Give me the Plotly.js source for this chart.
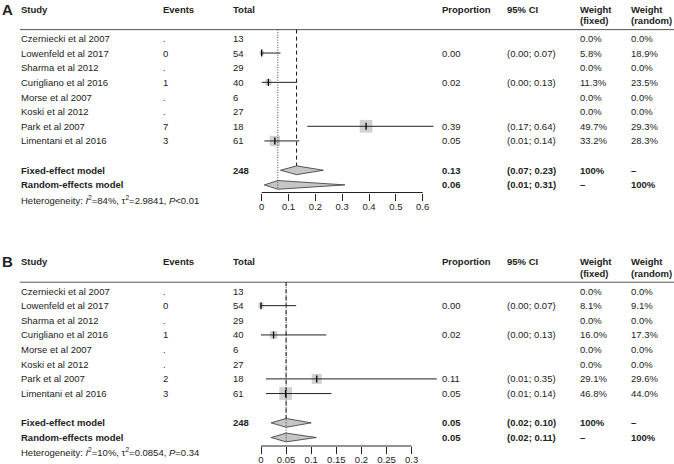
<!DOCTYPE html>
<html><head><meta charset="utf-8">
<script src="https://cdn.plot.ly/plotly-3.0.1.min.js"></script>
<style>html,body{margin:0;padding:0;background:#fff;}</style>
</head><body>
<div id="chart" style="width:674px;height:464px;"></div>
<script>
// ---------- DATA ----------
const studies = ['Czerniecki et al 2007','Lowenfeld et al 2017','Sharma et al 2012','Curigliano et al 2016','Morse et al 2007','Koski et al 2012','Park et al 2007','Limentani et al 2016'];
const totals = [13,54,29,40,6,27,18,61];
const pooledNames = ['Fixed-effect model','Random-effects model'];
const pooledTotal = 248;

// Panel A
const eventsA = ['.','0','.','1','.','.','7','3'];
const estA = [null,0.0,null,0.025,null,null,0.389,0.049];
const lowA = [null,0.0,null,0.0,null,null,0.17,0.01];
const upA  = [null,0.07,null,0.13,null,null,0.64,0.14];
const propLabA = ['','0.00','','0.02','','','0.39','0.05'];
const ciLabA = ['','(0.00; 0.07)','','(0.00; 0.13)','','','(0.17; 0.64)','(0.01; 0.14)'];
const wFixedA = [0.0,5.8,0.0,11.3,0.0,0.0,49.7,33.2];
const wRandomA = [0.0,18.9,0.0,23.5,0.0,0.0,29.3,28.3];
const pooledEstA = [0.13,0.06];
const pooledLowA = [0.07,0.01];
const pooledUpA = [0.23,0.31];
const hetA = ['84%','2.9841','<0.01'];
const tickValsA = [0,0.1,0.2,0.3,0.4,0.5,0.6];
const tickTextA = ['0','0.1','0.2','0.3','0.4','0.5','0.6'];

// Panel B
const eventsB = ['.','0','.','1','.','.','2','3'];
const estB = [null,0.0,null,0.025,null,null,0.111,0.049];
const lowB = [null,0.0,null,0.0,null,null,0.01,0.01];
const upB  = [null,0.07,null,0.13,null,null,0.35,0.14];
const propLabB = ['','0.00','','0.02','','','0.11','0.05'];
const ciLabB = ['','(0.00; 0.07)','','(0.00; 0.13)','','','(0.01; 0.35)','(0.01; 0.14)'];
const wFixedB = [0.0,8.1,0.0,16.0,0.0,0.0,29.1,46.8];
const wRandomB = [0.0,9.1,0.0,17.3,0.0,0.0,29.6,44.0];
const pooledEstB = [0.05,0.05];
const pooledLowB = [0.02,0.02];
const pooledUpB = [0.10,0.11];
const hetB = ['10%','0.0854','=0.34'];
const tickValsB = [0,0.05,0.1,0.15,0.2,0.25,0.3];
const tickTextB = ['0','0.05','0.1','0.15','0.2','0.25','0.3'];

// ---------- LAYOUT HELPERS ----------
const W = 674, H = 464;
const FONT = 'Arial, "Liberation Sans", sans-serif';
const FS = 9.5;
const TXT = '#222';
const ROWH = 14.65;
const COL = {label:1.5, study:20.7, events:163, total:233, prop:441.7, ci:506.7, wf:579.5, wr:631};

const traces = [];
const annotations = [];
const shapes = [];
const layout = {
  width: W, height: H, margin:{l:0,r:0,t:0,b:0},
  paper_bgcolor:'#fff', plot_bgcolor:'#fff', showlegend:false,
  font:{family:FONT, size:FS, color:TXT}
};

function txt(xpx, row, text, yref, bold, size) {
  annotations.push({
    xref:'paper', x: xpx / W, yref: yref, y: row,
    text: bold ? '<b>' + text + '</b>' : text,
    showarrow:false, xanchor:'left', yanchor:'middle',
    borderpad:0, borderwidth:0,
    font:{family:FONT, size: size || FS, color: TXT}
  });
}

function panel(p) {
  const yref = p.yid;
  const xref = p.xid;
  const axSuffix = p.xid === 'x' ? '' : '2';
  const topPx = p.domPx[0], botPx = p.domPx[1];
  const rTop = 1 + (topPx - p.row1Px) / ROWH;
  const rBot = 1 + (botPx - p.row1Px) / ROWH;
  layout['yaxis' + axSuffix] = {
    domain:[1 - botPx / H, 1 - topPx / H], range:[rBot, rTop],
    visible:false, fixedrange:true, anchor: xref
  };
  const x0 = -p.zeroPx / p.pxPerUnit;
  const x1 = (W - p.zeroPx) / p.pxPerUnit;
  const axisPos = 1 - p.axisPx / H;
  layout['xaxis' + axSuffix] = {
    domain:[0,1], range:[x0, x1], anchor:'free', position: axisPos,
    tickmode:'array', tickvals:p.tickVals, ticktext:p.tickText,
    ticks:'outside', ticklen:7, tickwidth:1, tickcolor:'#222',
    ticklabelstandoff:-2,
    showgrid:false, zeroline:false, showline:false, fixedrange:true,
    tickfont:{family:FONT, size:FS, color:TXT}
  };
  shapes.push({type:'line', xref:xref, yref:'paper',
    x0:p.tickVals[0], x1:p.tickVals[p.tickVals.length-1], y0:axisPos, y1:axisPos,
    line:{color:'#222', width:1}});

  const hr = -1, hr2 = -0.22;
  txt(COL.label, hr, p.label, yref, true, 15);
  txt(COL.study, hr, 'Study', yref, true);
  txt(COL.events, hr, 'Events', yref, true);
  txt(COL.total, hr, 'Total', yref, true);
  txt(COL.prop, hr, 'Proportion', yref, true);
  txt(COL.ci, hr, '95% CI', yref, true);
  txt(COL.wf, hr, 'Weight', yref, true);
  txt(COL.wf, hr2, '(fixed)', yref, true);
  txt(COL.wr, hr, 'Weight', yref, true);
  txt(COL.wr, hr2, '(random)', yref, true);
  shapes.push({type:'line', xref:'paper', yref:yref, x0:20/W, x1:1, y0:0.4, y1:0.4,
    line:{color:'#555', width:1}});

  const rows = studies.map((s,i)=>i+1);
  studies.forEach((s,i)=>{
    const r = rows[i];
    txt(COL.study, r, s, yref, false);
    txt(COL.events, r, p.events[i], yref, false);
    txt(COL.total, r, String(totals[i]), yref, false);
    if (p.propLab[i]) txt(COL.prop, r, p.propLab[i], yref, false);
    if (p.ciLab[i]) txt(COL.ci, r, p.ciLab[i], yref, false);
    txt(COL.wf, r, p.wFixed[i].toFixed(1) + '%', yref, false);
    txt(COL.wr, r, p.wRandom[i].toFixed(1) + '%', yref, false);
  });
  const pr = [10, 11];
  pooledNames.forEach((n,k)=>{
    txt(COL.study, pr[k], n, yref, true);
    txt(COL.prop, pr[k], p.pEst[k].toFixed(2), yref, true);
    txt(COL.ci, pr[k], '(' + p.pLow[k].toFixed(2) + '; ' + p.pUp[k].toFixed(2) + ')', yref, true);
  });
  txt(COL.total, pr[0], String(pooledTotal), yref, true);
  txt(COL.wf, pr[0], '100%', yref, true);
  txt(COL.wr, pr[0], '\u2013', yref, true);
  txt(COL.wf, pr[1], '\u2013', yref, true);
  txt(COL.wr, pr[1], '100%', yref, true);
  txt(COL.study, 12, 'Heterogeneity: <i>I</i><sup>2</sup>=' + p.het[0] + ', \u03c4<sup>2</sup>=' + p.het[1] + ', <i>P</i>' + p.het[2].replace('<','&lt;'), yref, false);

  shapes.push({type:'line', xref:xref, yref:yref, x0:p.pEst[0], x1:p.pEst[0], y0:0.4, y1:9.7,
    line:{color:'#111', width:1, dash:'4px,3px'}});
  shapes.push({type:'line', xref:xref, yref:yref, x0:p.pEst[1], x1:p.pEst[1], y0:0.4, y1:11.3,
    line:{color:'#444', width:1, dash:'1px,1.5px'}});

  const wmax = Math.max.apply(null, p.wFixed);
  const sx=[], sy=[], ss=[];
  const lx=[], ly=[];
  p.est.forEach((e,i)=>{
    if (e === null) return;
    sx.push(e); sy.push(rows[i]); ss.push(12.7 * Math.sqrt(p.wFixed[i] / wmax));
    lx.push(p.low[i], p.up[i], null); ly.push(rows[i], rows[i], null);
  });
  traces.push({type:'scatter', mode:'markers', x:sx, y:sy, xaxis:xref, yaxis:yref,
    marker:{symbol:'square', size:ss, color:'#bdbdbd', line:{width:0}}, hoverinfo:'skip', cliponaxis:false});
  traces.push({type:'scatter', mode:'lines', x:lx, y:ly, xaxis:xref, yaxis:yref,
    line:{color:'#222', width:1}, hoverinfo:'skip'});
  traces.push({type:'scatter', mode:'markers', x:sx, y:sy, xaxis:xref, yaxis:yref,
    marker:{symbol:'line-ns-open', size:5, color:'#000', line:{color:'#000', width:1.3}}, hoverinfo:'skip', cliponaxis:false});

  const h = 0.3;
  const dx=[], dy=[];
  pr.forEach((r,k)=>{
    dx.push(p.pLow[k], p.pEst[k], p.pUp[k], p.pEst[k], p.pLow[k], null);
    dy.push(r, r - h, r, r + h, r, null);
  });
  traces.push({type:'scatter', mode:'lines', x:dx, y:dy, xaxis:xref, yaxis:yref,
    fill:'toself', fillcolor:'#c6c6c6', line:{color:'#333', width:0.8}, hoverinfo:'skip'});
}

panel({label:'A', xid:'x', yid:'y', domPx:[0,232], row1Px:38.4, zeroPx:261.7, pxPerUnit:268.33, axisPx:192.5,
  tickVals:tickValsA, tickText:tickTextA, events:eventsA, est:estA, low:lowA, up:upA,
  propLab:propLabA, ciLab:ciLabA, wFixed:wFixedA, wRandom:wRandomA,
  pEst:pooledEstA, pLow:pooledLowA, pUp:pooledUpA, het:hetA});
panel({label:'B', xid:'x2', yid:'y2', domPx:[232,464], row1Px:291, zeroPx:261, pxPerUnit:502.33, axisPx:446,
  tickVals:tickValsB, tickText:tickTextB, events:eventsB, est:estB, low:lowB, up:upB,
  propLab:propLabB, ciLab:ciLabB, wFixed:wFixedB, wRandom:wRandomB,
  pEst:pooledEstB, pLow:pooledLowB, pUp:pooledUpB, het:hetB});

layout.annotations = annotations;
layout.shapes = shapes;
Plotly.newPlot('chart', traces, layout, {staticPlot:true, displayModeBar:false});
</script>
</body></html>
